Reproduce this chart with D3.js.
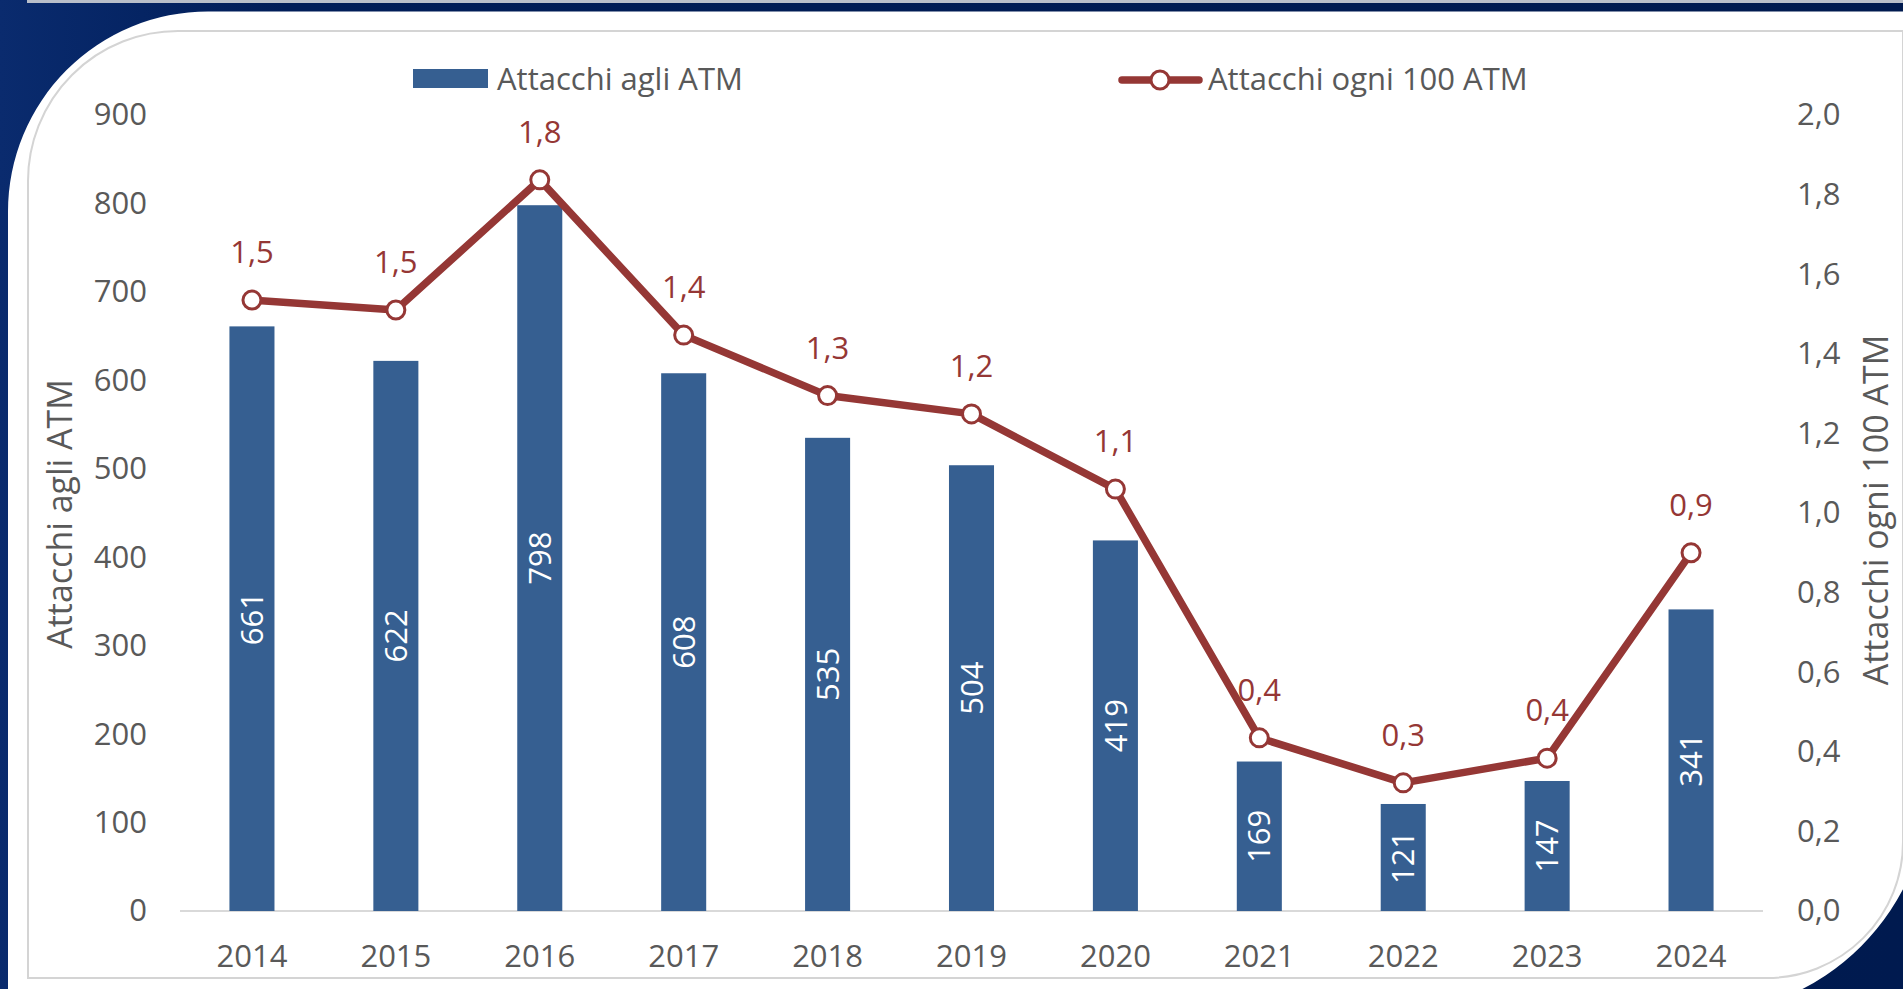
<!DOCTYPE html>
<html>
<head>
<meta charset="utf-8">
<script src="https://cdn.jsdelivr.net/npm/d3@7"></script>
<style>
body{margin:0;overflow:hidden;background:#001b52;}
text{font-family:"Open Sans",sans-serif;}
</style>
</head>
<body>
<div id="figzone"></div>
<script>
// data
var years = ["2014","2015","2016","2017","2018","2019","2020","2021","2022","2023","2024"];
var attacks = [661,622,798,608,535,504,419,169,121,147,341];
var per100 = [1.535,1.51,1.837,1.447,1.295,1.249,1.06,0.435,0.322,0.384,0.9];
var leftTicks = [0,100,200,300,400,500,600,700,800,900];
var rightTicks = [0,0.2,0.4,0.6,0.8,1.0,1.2,1.4,1.6,1.8,2.0];
var seriesNames = ["Attacchi agli ATM","Attacchi ogni 100 ATM"];

var width = 1903, height = 989;
var barColor = "#365f91", lineColor = "#953735", grey = "#595959";
var fontSize = 31;

var svg = d3.select("#figzone").append("svg").attr("width", width).attr("height", height);

// frame
var grad = svg.append("defs").append("linearGradient").attr("id","navy")
    .attr("x1","0").attr("x2","1").attr("y1","0").attr("y2","0");
grad.append("stop").attr("offset","0").attr("stop-color","#0a2b6e");
grad.append("stop").attr("offset","0.15").attr("stop-color","#001d58");
grad.append("stop").attr("offset","1").attr("stop-color","#001a4f");
svg.append("rect").attr("width", width).attr("height", height).attr("fill","url(#navy)");
svg.append("rect").attr("x",27).attr("y",0).attr("width", width).attr("height",3).attr("fill","#b9bfca");

function roundedPath(x0, y0, x1, y1, rTL, rBR){
    return "M" + x0 + "," + y1 +
        " L" + x0 + "," + (y0 + rTL) +
        " A" + rTL + "," + rTL + " 0 0 1 " + (x0 + rTL) + "," + y0 +
        " L" + x1 + "," + y0 +
        " L" + x1 + "," + (y1 - rBR) +
        " A" + rBR + "," + rBR + " 0 0 1 " + (x1 - rBR) + "," + y1 + " Z";
}
svg.append("path").attr("d", roundedPath(8, 11.5, 1930, 1015, 200, 235)).attr("fill","#ffffff");
svg.append("path").attr("d", roundedPath(28, 31, 1903, 978, 150, 136))
    .attr("fill","none").attr("stroke","#d4d4d4").attr("stroke-width",2);

// scales
var x = d3.scaleBand().domain(years).range([180, 1763]).paddingInner(0.687).paddingOuter(0.3435);
var yLeft = d3.scaleLinear().domain([0, 900]).range([911, 115]);
var yRight = d3.scaleLinear().domain([0, 2]).range([911, 115]);
var comma = function(v){ return d3.format(".1f")(v).replace(".", ","); };
function cx(d, i){ return x(years[i]) + x.bandwidth()/2; }

// axes
var gLeft = svg.append("g").attr("transform","translate(180,0)")
    .call(d3.axisLeft(yLeft).tickValues(leftTicks).tickSize(0).tickPadding(33));
var gRight = svg.append("g").attr("transform","translate(1763,0)")
    .call(d3.axisRight(yRight).tickValues(rightTicks).tickSize(0).tickPadding(34).tickFormat(comma));
var gBottom = svg.append("g").attr("transform","translate(0,911)")
    .call(d3.axisBottom(x).tickSize(0).tickPadding(34));
[gLeft, gRight, gBottom].forEach(function(g){
    g.select(".domain").remove();
    g.selectAll("text").attr("fill", grey).style("font-size", fontSize+"px")
        .style("font-family", '"Open Sans",sans-serif');
});
svg.append("line").attr("x1",180).attr("x2",1763).attr("y1",911).attr("y2",911)
    .attr("stroke","#d9d9d9").attr("stroke-width",2);

// axis titles
svg.append("text").attr("transform","translate(72,514) rotate(-90)")
    .attr("text-anchor","middle").attr("fill",grey).style("font-size","34px").text(seriesNames[0]);
svg.append("text").attr("transform","translate(1888,510) rotate(-90)")
    .attr("text-anchor","middle").attr("fill",grey).style("font-size","34px").text(seriesNames[1]);

// bars
var gBar = svg.append("g").attr("class","bars");
gBar.selectAll("rect").data(attacks).enter().append("rect")
    .attr("x", function(d, i){ return x(years[i]); })
    .attr("y", function(d){ return yLeft(d); })
    .attr("width", x.bandwidth())
    .attr("height", function(d){ return yLeft(0) - yLeft(d); })
    .attr("fill", barColor);
gBar.selectAll("text").data(attacks).enter().append("text")
    .attr("transform", function(d, i){
        return "translate(" + cx(d, i) + "," + (yLeft(d) + yLeft(0))/2 + ") rotate(-90)";
    })
    .attr("text-anchor","middle").attr("dy","0.36em")
    .attr("fill","#ffffff").style("font-size", fontSize+"px")
    .text(function(d){ return d; });

// line
var line = d3.line().x(function(d, i){ return cx(d, i); }).y(function(d){ return yRight(d); });
svg.append("path").datum(per100).attr("d", line)
    .attr("fill","none").attr("stroke", lineColor).attr("stroke-width",7.5)
    .attr("stroke-linejoin","round");
svg.append("g").selectAll("circle").data(per100).enter().append("circle")
    .attr("cx", cx).attr("cy", function(d){ return yRight(d); })
    .attr("r", 9).attr("fill","#ffffff").attr("stroke", lineColor).attr("stroke-width",3);
svg.append("g").selectAll("text").data(per100).enter().append("text")
    .attr("x", cx).attr("y", function(d){ return yRight(d) - 37; })
    .attr("text-anchor","middle").attr("fill", lineColor).style("font-size", fontSize+"px")
    .text(function(d){ return comma(d); });

// legend
var gLegend = svg.append("g").attr("class","legend");
gLegend.append("rect").attr("x",413).attr("y",69).attr("width",75).attr("height",19).attr("fill", barColor);
gLegend.append("text").attr("x",497).attr("y",90).attr("fill",grey).style("font-size", fontSize+"px").text(seriesNames[0]);
gLegend.append("line").attr("x1",1122).attr("x2",1199).attr("y1",80).attr("y2",80)
    .attr("stroke", lineColor).attr("stroke-width",7.5).attr("stroke-linecap","round");
gLegend.append("circle").attr("cx",1160).attr("cy",80).attr("r",9)
    .attr("fill","#ffffff").attr("stroke", lineColor).attr("stroke-width",3);
gLegend.append("text").attr("x",1208).attr("y",90).attr("fill",grey).style("font-size", fontSize+"px").text(seriesNames[1]);
</script>
</body>
</html>
